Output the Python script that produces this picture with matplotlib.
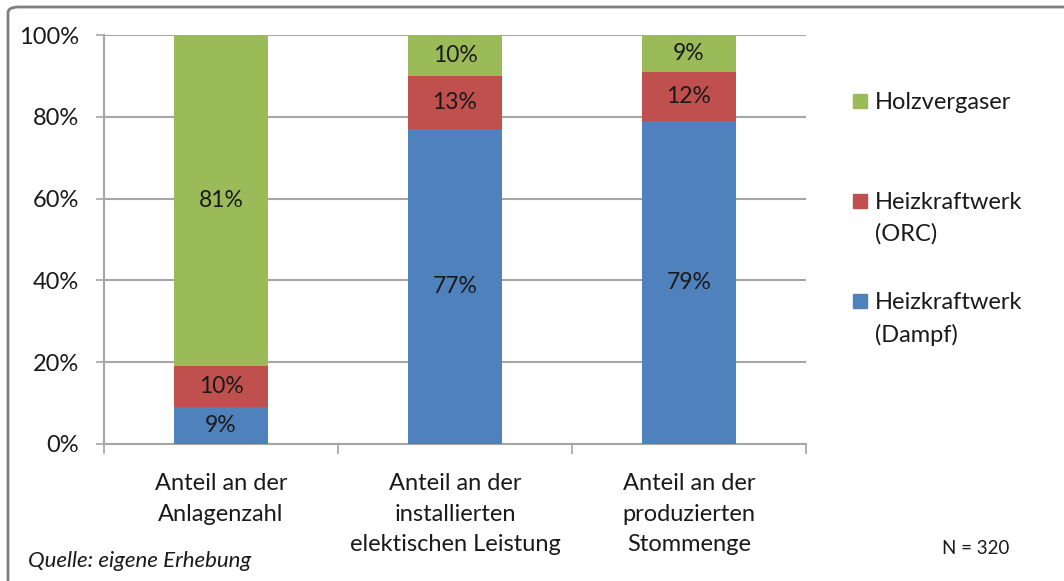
import numpy as np
import matplotlib.pyplot as plt
from matplotlib.patches import FancyBboxPatch, Rectangle

plt.rcParams['font.family'] = ['Lato', 'DejaVu Sans']

kategorien = ['Anteil an der\nAnlagenzahl',
              'Anteil an der\ninstallierten\nelektischen Leistung',
              'Anteil an der\nproduzierten\nStommenge']
dampf = [9, 77, 79]
orc = [10, 13, 12]
holz = [81, 10, 9]
serien_namen = ['Heizkraftwerk\n(Dampf)', 'Heizkraftwerk\n(ORC)', 'Holzvergaser']
farben = ['#4F81BD', '#C0504D', '#9BBB59']
y_ticks = [0, 20, 40, 60, 80, 100]

fig = plt.figure(figsize=(10.64, 5.81), dpi=100)
ax = fig.add_axes([104/1064, 1 - 444/581, 702/1064, 409/581])

x = np.arange(len(kategorien))
unten = np.zeros(len(kategorien))
for werte, farbe in zip([dampf, orc, holz], farben):
    werte = np.array(werte, dtype=float)
    balken = ax.bar(x, werte, 0.4, bottom=unten, color=farbe, zorder=3)
    ax.bar_label(balken, labels=[f'{int(w)}%' for w in werte], label_type='center',
                 fontsize=16.5, color='#1a1a1a')
    unten += werte

grau = '#A6A6A6'
ax.set_xlim(-0.5, len(kategorien) - 0.5)
ax.set_ylim(0, 100)
ax.set_yticks(y_ticks)
ax.set_yticklabels([f'{t}%' for t in y_ticks], fontsize=17, color='#1a1a1a')
ax.yaxis.grid(True, color=grau, linewidth=1.5, zorder=0)
ax.tick_params(axis='y', length=6, width=1.2, color=grau, pad=12)

ax.set_xticks(x)
ax.set_xticklabels(kategorien, fontsize=17, color='#1a1a1a', linespacing=1.55)
ax.set_xticks(np.arange(len(kategorien) + 1) - 0.5, minor=True)
ax.tick_params(axis='x', which='major', length=0, pad=21)
ax.tick_params(axis='x', which='minor', length=7, width=1.2, color=grau)

for s in ['top', 'right']:
    ax.spines[s].set_visible(False)
for s in ['left', 'bottom']:
    ax.spines[s].set_color(grau)
    ax.spines[s].set_linewidth(1.5)

# Legende von Hand: Quadrat an der ersten Textzeile
leg_y = [101, 201, 301]
for name, farbe, yp in zip(serien_namen[::-1], farben[::-1], leg_y):
    fig.patches.append(Rectangle((853/1064, 1 - (yp + 7)/581), 14/1064, 14/581,
                                 transform=fig.transFigure, color=farbe))
    fig.text(875/1064, 1 - (yp - 9)/581, name, fontsize=17, color='#1a1a1a',
             va='top', ha='left', linespacing=1.58)

fig.text(28/1064, 1 - 561/581, 'Quelle: eigene Erhebung', fontsize=16,
         style='italic', color='#1a1a1a', va='center')
fig.text(976/1064, 1 - 548/581, 'N = 320', fontsize=13.5, color='#1a1a1a',
         va='center', ha='center')

# Rahmen um das Diagramm
fig.patches.append(FancyBboxPatch((8/1064, -0.1), 1.2, 1 - 7/581 + 0.1,
                                  boxstyle='round,pad=0,rounding_size=0.01',
                                  transform=fig.transFigure, fill=False,
                                  edgecolor='#808080', linewidth=2))

fig.savefig('out.png', dpi=100)
